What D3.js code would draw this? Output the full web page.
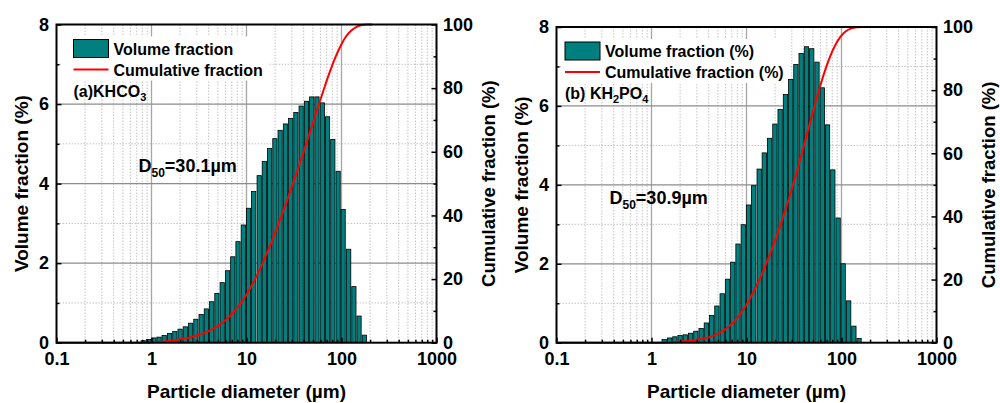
<!DOCTYPE html>
<html>
<head>
<meta charset="utf-8">
<script src="https://cdn.jsdelivr.net/npm/d3@7"></script>
<style>
  body { margin: 0; background: #fff; }
  text { font-family: "Liberation Sans", Arial, sans-serif; font-weight: bold; fill: #000; }
</style>
</head>
<body>
<svg id="chart" width="1000" height="403"></svg>
<script>
// ---- data ----
// bin centres (um) and volume fraction (%) for (a) KHCO3
var sizesA = [0.818, 0.93, 1.06, 1.2, 1.36, 1.55, 1.76, 2.0, 2.27, 2.58, 2.93, 3.33, 3.78, 4.3, 4.88, 5.55,
  6.31, 7.17, 8.14, 9.25, 10.5, 11.9, 13.6, 15.4, 17.5, 19.9, 22.6, 25.7, 29.2, 33.1, 37.6, 42.8, 48.6,
  55.2, 62.8, 71.3, 81.0, 92.1, 104, 119, 135, 153, 174]
var volumeA = [0.05, 0.08, 0.12, 0.14, 0.18, 0.23, 0.28, 0.34, 0.40, 0.49, 0.59, 0.71, 0.85, 1.03, 1.24, 1.51,
  1.81, 2.16, 2.54, 2.96, 3.38, 3.80, 4.20, 4.56, 4.88, 5.13, 5.34, 5.50, 5.64, 5.79, 5.95, 6.07, 6.18,
  6.18, 6.03, 5.68, 5.11, 4.31, 3.35, 2.35, 1.41, 0.67, 0.19]
var cumSizesA = [0.1, 0.767, 0.872, 0.991, 1.13, 1.28, 1.45, 1.65, 1.88, 2.13, 2.42, 2.75, 3.12, 3.55, 4.03,
  4.58, 5.21, 5.92, 6.72, 7.64, 8.68, 9.86, 11.2, 12.7, 14.5, 16.4, 18.7, 21.2, 24.1, 27.4, 31.1, 35.3,
  40.1, 45.6, 51.8, 58.9, 66.9, 76, 86.4, 98.1, 111, 127, 144, 163, 186, 211]
var cumA = [0, 0, 0.04, 0.11, 0.21, 0.33, 0.48, 0.67, 0.90, 1.19, 1.52, 1.93, 2.43, 3.02, 3.74,
  4.60, 5.64, 6.90, 8.42, 10.23, 12.35, 14.83, 17.66, 20.85, 24.36, 28.18, 32.27, 36.57, 41.04, 45.64, 50.37, 55.22,
  60.20, 65.28, 70.46, 75.64, 80.69, 85.44, 89.72, 93.33, 96.14, 98.11, 99.29, 99.85, 100, 100]

// (b) KH2PO4
var sizesB = [1.36, 1.55, 1.76, 2.0, 2.27, 2.58, 2.93, 3.33, 3.78, 4.3, 4.88, 5.55, 6.31, 7.17, 8.14, 9.25,
  10.5, 11.9, 13.6, 15.4, 17.5, 19.9, 22.6, 25.7, 29.2, 33.1, 37.6, 42.8, 48.6, 55.2, 62.8, 71.3, 81.0,
  92.1, 104, 119, 135, 153]
var volumeB = [0.08, 0.12, 0.15, 0.18, 0.20, 0.24, 0.29, 0.36, 0.50, 0.69, 0.93, 1.24, 1.61, 2.04, 2.50, 2.99,
  3.49, 3.98, 4.40, 4.81, 5.18, 5.54, 5.91, 6.29, 6.67, 7.05, 7.33, 7.50, 7.45, 7.11, 6.46, 5.52, 4.38,
  3.16, 2.00, 1.06, 0.42, 0.11]
var cumSizesB = [0.1, 1.28, 1.45, 1.65, 1.88, 2.13, 2.42, 2.75, 3.12, 3.55, 4.03, 4.58, 5.21, 5.92, 6.72, 7.64,
  8.68, 9.86, 11.2, 12.7, 14.5, 16.4, 18.7, 21.2, 24.1, 27.4, 31.1, 35.3, 40.1, 45.6, 51.8, 58.9, 66.9,
  76, 86.4, 98.1, 111, 127, 144, 163, 186]
var cumB = [0, 0, 0.07, 0.17, 0.29, 0.44, 0.61, 0.81, 1.05, 1.35, 1.77, 2.34, 3.12, 4.15, 5.49, 7.20,
  9.28, 11.77, 14.68, 18.00, 21.67, 25.68, 30.00, 34.62, 39.55, 44.79, 50.35, 56.23, 62.34, 68.59, 74.80, 80.73, 86.12,
  90.72, 94.37, 97.01, 98.67, 99.56, 99.91, 100, 100]

var xMajor = [0.1, 1, 10, 100, 1000]
var yMajor = [0, 2, 4, 6, 8]
var y2Major = [0, 20, 40, 60, 80, 100]

var svg = d3.select("#chart")

function drawPanel(p) {
  var g = svg.append("g")
  var x = d3.scaleLog().domain([0.1, 1000]).range([p.left, p.right])
  var y = d3.scaleLinear().domain([0, 8]).range([p.bottom, p.top])
  var y2 = d3.scaleLinear().domain([0, 100]).range([p.bottom, p.top])

  // minor values
  var xMinor = []
  ;[0.1, 1, 10, 100].forEach(function(d) { for (var k = 2; k <= 9; k++) xMinor.push(d * k) })
  var yMinor = [1, 3, 5, 7]
  var y2Minor = [10, 30, 50, 70, 90]

  // grid
  var grid = g.append("g")
  grid.selectAll(".vmin").data(xMinor).enter().append("line")
    .attr("x1", function(d) { return x(d) }).attr("x2", function(d) { return x(d) })
    .attr("y1", p.top).attr("y2", p.bottom)
    .attr("stroke", "#c4c4c4").attr("stroke-width", 1).attr("stroke-dasharray", "1.5,1.5")
  grid.selectAll(".hmin").data(yMinor).enter().append("line")
    .attr("x1", p.left).attr("x2", p.right)
    .attr("y1", function(d) { return y(d) }).attr("y2", function(d) { return y(d) })
    .attr("stroke", "#c4c4c4").attr("stroke-width", 1).attr("stroke-dasharray", "1.5,1.5")
  grid.selectAll(".vmaj").data([1, 10, 100]).enter().append("line")
    .attr("x1", function(d) { return x(d) }).attr("x2", function(d) { return x(d) })
    .attr("y1", p.top).attr("y2", p.bottom)
    .attr("stroke", "#a6a6a6").attr("stroke-width", 1.3)
  grid.selectAll(".hmaj").data([2, 4, 6]).enter().append("line")
    .attr("x1", p.left).attr("x2", p.right)
    .attr("y1", function(d) { return y(d) }).attr("y2", function(d) { return y(d) })
    .attr("stroke", "#8c8c8c").attr("stroke-width", 1.2)

  // legend background
  g.append("rect").attr("x", p.left + 5).attr("y", p.top + 12)
    .attr("width", p.legendW).attr("height", 44).attr("fill", "#fff")

  // bars
  var step = x(p.sizes[1]) - x(p.sizes[0])
  var bw = step * 0.8
  g.selectAll(".bar").data(p.sizes).enter().append("rect")
    .attr("x", function(d) { return x(d) - bw / 2 })
    .attr("y", function(d, i) { return y(p.volume[i]) })
    .attr("width", bw)
    .attr("height", function(d, i) { return y(0) - y(p.volume[i]) })
    .attr("fill", "#007f7f").attr("stroke", "#000").attr("stroke-width", 0.8)

  // cumulative curve
  var pts = p.cumSizes.map(function(d, i) { return [d, p.cum[i]] })
  g.append("path").datum(pts)
    .attr("d", d3.line().x(function(d) { return x(d[0]) }).y(function(d) { return y2(d[1]) }).curve(d3.curveMonotoneX))
    .attr("fill", "none").attr("stroke", "#ff0000").attr("stroke-width", 2)

  // axes (ticks inward)
  var fmt = function(d) { return d3.format("~g")(d) }
  var ax = g.append("g").attr("transform", "translate(0," + p.bottom + ")")
    .call(d3.axisBottom(x).tickValues(xMajor).tickSize(-5).tickPadding(9.5).tickFormat(fmt))
  ax.append("g").call(d3.axisBottom(x).tickValues(xMinor).tickSize(-3).tickFormat(""))
  var ay = g.append("g").attr("transform", "translate(" + p.left + ",0)")
    .call(d3.axisLeft(y).tickValues(yMajor).tickSize(-5).tickPadding(7.5))
  ay.append("g").call(d3.axisLeft(y).tickValues(yMinor).tickSize(-3).tickFormat(""))
  var ay2 = g.append("g").attr("transform", "translate(" + p.right + ",0)")
    .call(d3.axisRight(y2).tickValues(y2Major).tickSize(-5).tickPadding(6.5))
  ay2.append("g").call(d3.axisRight(y2).tickValues(y2Minor).tickSize(-3).tickFormat(""))
  g.selectAll(".domain").remove()
  g.selectAll(".tick line").attr("stroke", "#000").attr("stroke-width", 1.5)
  g.selectAll(".tick text").style("font-size", "18px").style("font-family", "'Liberation Sans', Arial, sans-serif")
    .style("font-weight", "bold").attr("fill", "#000")

  // frame
  g.append("rect").attr("x", p.left).attr("y", p.top)
    .attr("width", p.right - p.left).attr("height", p.bottom - p.top)
    .attr("fill", "none").attr("stroke", "#000").attr("stroke-width", 2)

  // axis titles
  g.append("text").attr("x", (p.left + p.right) / 2).attr("y", 398)
    .attr("text-anchor", "middle").style("font-size", "19px").text("Particle diameter (\u00b5m)")
  g.append("text").attr("transform", "translate(" + (p.left - 28.5) + "," + ((p.top + p.bottom) / 2) + ") rotate(-90)")
    .attr("text-anchor", "middle").style("font-size", "19px").text("Volume fraction (%)")
  g.append("text").attr("transform", "translate(" + (p.right + 58) + "," + ((p.top + p.bottom) / 2) + ") rotate(-90)")
    .attr("text-anchor", "middle").style("font-size", "18.5px").text("Cumulative fraction (%)")

  // legend
  var lx = p.legendX
  g.append("rect").attr("x", lx).attr("y", p.top + 15).attr("width", 35).attr("height", 18)
    .attr("fill", "#007f7f").attr("stroke", "#000").attr("stroke-width", 1)
  g.append("text").attr("x", lx + 40).attr("y", p.top + 30).style("font-size", "16px").text(p.legend1)
  g.append("line").attr("x1", lx).attr("x2", lx + 35).attr("y1", p.top + 45).attr("y2", p.top + 45)
    .attr("stroke", "#ff0000").attr("stroke-width", 2)
  g.append("text").attr("x", lx + 40).attr("y", p.top + 51).style("font-size", "16px").text(p.legend2)

  // sample label with subscripts
  var lab = g.append("text").attr("x", lx).attr("y", p.top + 72).style("font-size", "16px")
  p.label.forEach(function(part) {
    if (part.sub) lab.append("tspan").attr("dy", 4).style("font-size", "11px").text(part.t)
    else lab.append("tspan").attr("dy", part.after ? -4 : 0).text(part.t)
  })

  // D50 annotation
  var d50 = g.append("text").attr("x", p.d50x).attr("y", p.d50y).style("font-size", "18px")
  d50.append("tspan").text("D")
  d50.append("tspan").attr("dy", 5).style("font-size", "12px").text("50")
  d50.append("tspan").attr("dy", -5).text(p.d50)
}

drawPanel({
  left: 56.5, right: 436.5, top: 24.5, bottom: 342.7,
  sizes: sizesA, volume: volumeA, cumSizes: cumSizesA, cum: cumA,
  legendX: 73.5, legendW: 208, legend1: "Volume fraction", legend2: "Cumulative fraction",
  label: [{t: "(a)KHCO"}, {t: "3", sub: true}],
  d50x: 138.5, d50y: 171.5, d50: "=30.1\u00b5m"
})

drawPanel({
  left: 556.5, right: 936.5, top: 27, bottom: 342.7,
  sizes: sizesB, volume: volumeB, cumSizes: cumSizesB, cum: cumB,
  legendX: 565, legendW: 228, legend1: "Volume fraction (%)", legend2: "Cumulative fraction (%)",
  label: [{t: "(b) KH"}, {t: "2", sub: true}, {t: "PO", after: true}, {t: "4", sub: true}],
  d50x: 609.5, d50y: 204, d50: "=30.9\u00b5m"
})
</script>
</body>
</html>
